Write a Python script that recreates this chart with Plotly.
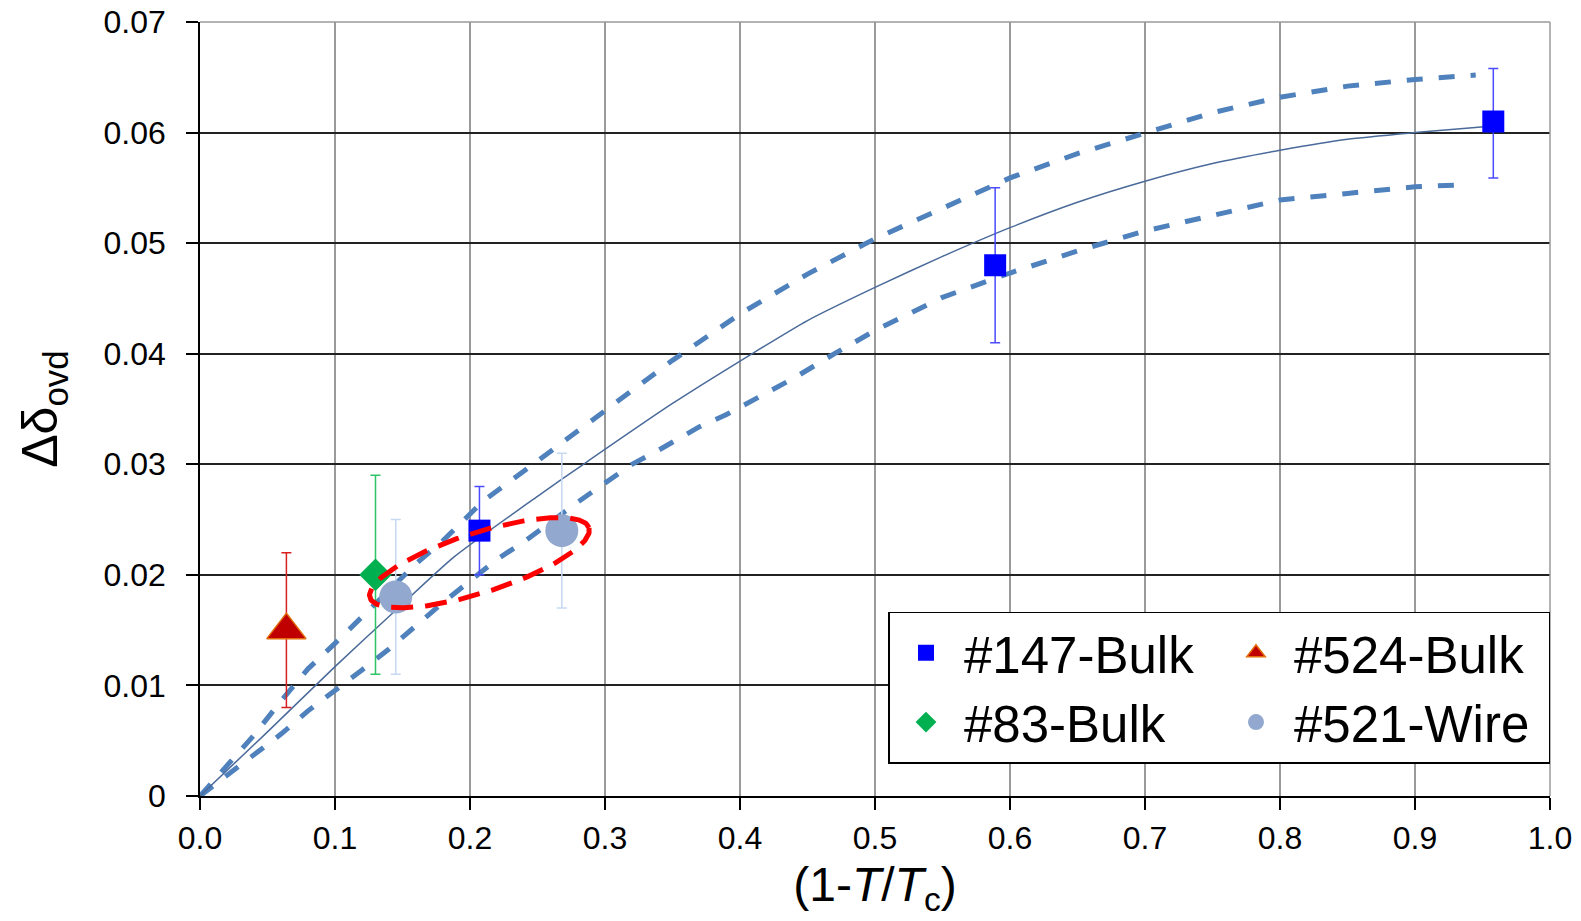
import numpy as np
import plotly.graph_objects as go

# ---------------- data ----------------
s147_x = [0.207, 0.589, 0.958]
s147_y = [0.024, 0.048, 0.061]
s147_hi = [0.028, 0.055, 0.0658]
s147_lo = [0.020, 0.041, 0.0559]

s524_x = [0.064]
s524_y = [0.015]
s524_hi = [0.022]
s524_lo = [0.008]

s83_x = [0.130]
s83_y = [0.020]
s83_hi = [0.029]
s83_lo = [0.011]

s521_x = [0.145, 0.268]
s521_y = [0.018, 0.024]
s521_hi = [0.025, 0.031]
s521_lo = [0.011, 0.017]

fit_x = [0, 0.05, 0.10, 0.145, 0.188, 0.25, 0.284, 0.35, 0.4076, 0.45, 0.50, 0.55,
         0.60, 0.65, 0.70, 0.75, 0.80, 0.85, 0.90, 0.958]
fit_y = [0, 0.0058, 0.0117, 0.0168, 0.0216, 0.0271, 0.0300, 0.0355, 0.0399, 0.0430,
         0.0460, 0.0488, 0.0514, 0.0537, 0.0556, 0.0572, 0.0584, 0.0594, 0.0600, 0.0606]

upper_x = [0, 0.02, 0.04, 0.06, 0.08, 0.10, 0.12, 0.16, 0.18, 0.21, 0.25, 0.30, 0.35,
           0.40, 0.45, 0.50, 0.55, 0.60, 0.65, 0.70, 0.75, 0.80, 0.85, 0.90, 0.945]
upper_y = [0, 0.0027, 0.0055, 0.0086, 0.0115, 0.0138, 0.0162, 0.0210, 0.0231, 0.0267,
           0.0303, 0.0348, 0.0394, 0.0436, 0.0472, 0.0504, 0.0532, 0.0559, 0.0581,
           0.0600, 0.0618, 0.0632, 0.0642, 0.0648, 0.0652]

lower_x = [0, 0.02, 0.04, 0.06, 0.08, 0.10, 0.12, 0.14, 0.16, 0.18, 0.22, 0.24, 0.28,
           0.30, 0.32, 0.34, 0.37, 0.39, 0.41, 0.44, 0.47, 0.50, 0.55, 0.60, 0.65,
           0.70, 0.75, 0.80, 0.85, 0.90, 0.94]
lower_y = [0, 0.0019, 0.0038, 0.0056, 0.0077, 0.0095, 0.0114, 0.0133, 0.0154, 0.0175,
           0.0214, 0.0230, 0.0266, 0.0283, 0.0300, 0.0313, 0.0334, 0.0345, 0.0358,
           0.0378, 0.0400, 0.0421, 0.0451, 0.0473, 0.0493, 0.0511, 0.0525, 0.0539,
           0.0545, 0.0551, 0.0553]

x_tickvals = [0.0, 0.1, 0.2, 0.3, 0.4, 0.5, 0.6, 0.7, 0.8, 0.9, 1.0]
x_ticktext = ["0.0", "0.1", "0.2", "0.3", "0.4", "0.5", "0.6", "0.7", "0.8", "0.9", "1.0"]
y_tickvals = [0, 0.01, 0.02, 0.03, 0.04, 0.05, 0.06, 0.07]
y_ticktext = ["0", "0.01", "0.02", "0.03", "0.04", "0.05", "0.06", "0.07"]

# highlight ellipse (centre in data units, semi-axes in screen px, tilt in degrees)
ell_center = (0.207, 0.0211)
ell_axes_px = (115, 30)
ell_angle = 17.7

# ---------------- layout constants ----------------
W, H = 1581, 921
ML, MR, MT, MB = 200, 31, 22, 125
XR = [0, 1.0]
YR = [0, 0.07]
FONT = "Liberation Sans, Arial, sans-serif"

pw = W - ML - MR
ph = H - MT - MB
px_x = pw / (XR[1] - XR[0])
px_y = ph / (YR[1] - YR[0])

t = np.linspace(0, 2 * np.pi, 241)
th = np.deg2rad(ell_angle)
u = ell_axes_px[0] * np.cos(t)
v = ell_axes_px[1] * np.sin(t)
ell_x = ell_center[0] + (u * np.cos(th) - v * np.sin(th)) / px_x
ell_y = ell_center[1] + (u * np.sin(th) + v * np.cos(th)) / px_y

fig = go.Figure()

dash_style = dict(color="#4F81BD", width=5, dash="16px,16px")
fig.add_trace(go.Scatter(x=upper_x, y=upper_y, mode="lines", line=dash_style,
                         showlegend=False, hoverinfo="skip"))
fig.add_trace(go.Scatter(x=lower_x, y=lower_y, mode="lines", line=dash_style,
                         showlegend=False, hoverinfo="skip"))
fig.add_trace(go.Scatter(x=fit_x, y=fit_y, mode="lines",
                         line=dict(color="#4A6A9A", width=1.5, shape="spline", smoothing=0.6),
                         showlegend=False, hoverinfo="skip"))


def err(hi, y, lo, color):
    return dict(type="data", symmetric=False,
                array=[h - c for h, c in zip(hi, y)],
                arrayminus=[c - l for c, l in zip(y, lo)],
                color=color, thickness=1.5, width=5)


fig.add_trace(go.Scatter(
    x=s147_x, y=s147_y, mode="markers", name="#147-Bulk", legendgroup="a",
    marker=dict(symbol="square", size=22, color="#0000FF"),
    error_y=err(s147_hi, s147_y, s147_lo, "#4B4BFF")))
fig.add_trace(go.Scatter(
    x=s524_x, y=s524_y, mode="markers", name="#524-Bulk", legendgroup="b",
    marker=dict(symbol="triangle-up", size=34, color="#C00000",
                line=dict(color="#E46C0A", width=1.5)),
    error_y=err(s524_hi, s524_y, s524_lo, "#D82020")))
fig.add_trace(go.Scatter(
    x=s83_x, y=s83_y, mode="markers", name="#83-Bulk", legendgroup="a",
    marker=dict(symbol="diamond", size=25, color="#00B050"),
    error_y=err(s83_hi, s83_y, s83_lo, "#2CC464")))
fig.add_trace(go.Scatter(
    x=s521_x, y=s521_y, mode="markers", name="#521-Wire", legendgroup="b",
    marker=dict(symbol="circle", size=33, color="#93A8CE"),
    error_y=err(s521_hi, s521_y, s521_lo, "#C6D9F1")))

fig.add_trace(go.Scatter(x=ell_x, y=ell_y, mode="lines",
                         line=dict(color="#FF0000", width=5, dash="22px,12px"),
                         showlegend=False, hoverinfo="skip"))

# gray top / right frame
fig.add_shape(type="line", xref="paper", yref="paper", x0=0, x1=1, y0=1, y1=1,
              line=dict(color="#9A9A9A", width=1.5), layer="above")
fig.add_shape(type="line", xref="paper", yref="paper", x0=1, x1=1, y0=0, y1=1,
              line=dict(color="#9A9A9A", width=1.5), layer="above")

fig.update_layout(
    width=W, height=H,
    margin=dict(l=ML, r=MR, t=MT, b=MB, autoexpand=False),
    paper_bgcolor="white", plot_bgcolor="white",
    font=dict(family=FONT, color="black"),
    showlegend=True,
    legend=dict(orientation="h", traceorder="grouped",
                x=1.0, xanchor="right", y=0.140, yanchor="middle",
                bgcolor="white", bordercolor="black", borderwidth=1.5,
                font=dict(family=FONT, size=51, color="black"),
                itemsizing="trace", tracegroupgap=0,
                itemwidth=66, entrywidth=249, entrywidthmode="pixels"),
)

fig.update_xaxes(
    range=XR, tickvals=x_tickvals, ticktext=x_ticktext,
    showgrid=True, gridcolor="#9A9A9A", gridwidth=1.5,
    showline=True, linecolor="black", linewidth=1.5,
    ticks="outside", ticklen=12, tickwidth=1.5, tickcolor="black",
    tickfont=dict(family=FONT, size=32, color="black"),
    ticklabelstandoff=1,
    zeroline=False,
    title=dict(text="(1-<i>T</i>/<i>T</i><sub>c</sub>)",
               font=dict(family=FONT, size=48, color="black"), standoff=12),
)
fig.update_yaxes(
    range=YR, tickvals=y_tickvals, ticktext=y_ticktext,
    showgrid=True, gridcolor="#222222", gridwidth=1.5,
    showline=True, linecolor="black", linewidth=1.5,
    ticks="outside", ticklen=12, tickwidth=1.5, tickcolor="black",
    tickfont=dict(family=FONT, size=32, color="black"),
    ticklabelstandoff=14,
    zeroline=False,
    title=dict(text="Δδ<sub>ovd</sub>",
               font=dict(family=FONT, size=50, color="black"), standoff=30),
)

fig.write_html("out.html")
